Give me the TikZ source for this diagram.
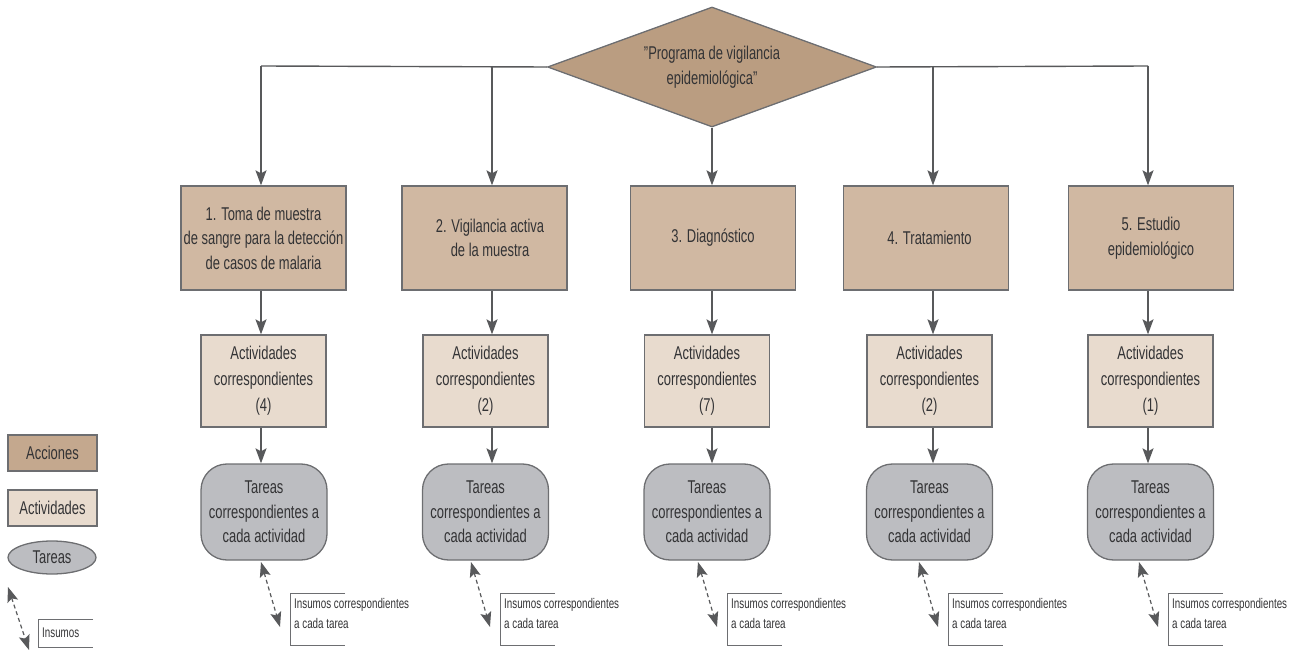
\documentclass[tikz,border=0pt]{standalone}
\usepackage{fontspec}
\setmainfont{Liberation Sans}[FakeStretch=0.70]
\usetikzlibrary{shapes.geometric,arrows.meta}

\definecolor{accfill}{HTML}{D0B8A2}
\definecolor{diafill}{HTML}{BA9D81}
\definecolor{legacc}{HTML}{C4A88E}
\definecolor{actfill}{HTML}{E8DBCE}
\definecolor{tarfill}{HTML}{BCBDC1}
\definecolor{edge}{HTML}{6D6E71}
\definecolor{wire}{HTML}{58595B}
\definecolor{ink}{HTML}{333335}

\tikzset{
  base/.style={draw=edge, line width=1.3pt, text=ink, align=center, inner sep=0pt,
    font=\fontsize{18.5}{24.5}\selectfont},
  accion/.style={base, fill=accfill, minimum width=165pt, minimum height=104pt},
  actividad/.style={base, fill=actfill, minimum width=125pt, minimum height=92pt,
    font=\fontsize{18.5}{26}\selectfont},
  tarea/.style={base, fill=tarfill, rounded corners=26pt, minimum width=126pt, minimum height=96pt},
  programa/.style={base, diamond, aspect=2.74, fill=diafill, minimum width=329pt, minimum height=120pt},
  wirearrow/.style={draw=wire, line width=1.4pt, -{Stealth[length=15pt,width=11pt,inset=3pt]}},
  wireline/.style={draw=wire, line width=1.4pt},
  insumoarrow/.style={draw=wire, line width=1.2pt, dash pattern=on 4pt off 3pt,
    {Stealth[length=15pt,width=11pt,inset=3pt]}-{Stealth[length=15pt,width=11pt,inset=3pt]}},
  bracket/.style={draw=edge, line width=0.9pt},
  insumotxt/.style={text=ink, align=left, anchor=north west, inner sep=0pt,
    font=\fontsize{14}{20}\selectfont},
}

\begin{document}
\begin{tikzpicture}[x=1pt,y=-1pt]
\useasboundingbox (0,0) rectangle (1299,652);

% top decision node
\node[programa] (prog) at (712,67) {”Programa de vigilancia\\epidemiológica”};

% drop points on the distribution line
\coordinate (d1) at (261,66);
\coordinate (d2) at (492,66);
\coordinate (d3) at (712,127);
\coordinate (d4) at (933,66);
\coordinate (d5) at (1148,66);

% actions
\node[accion] (a1) at (263.5,238) {1. Toma de muestra\\de sangre para la detección\\de casos de malaria};
\node[accion] (a2) at (484.5,238) {\hspace*{11pt}2. Vigilancia activa\\\hspace*{11pt}de la muestra};
\node[accion] (a3) at (713,238) {3. Diagnóstico};
\node[accion] (a4) at (926,238) {\hspace*{7pt}4. Tratamiento};
\node[accion] (a5) at (1151,238) {5. Estudio\\epidemiológico};

% activities
\node[actividad] (b1) at (263.5,381) {Actividades\\correspondientes\\(4)};
\node[actividad] (b2) at (485.5,381) {Actividades\\correspondientes\\(2)};
\node[actividad] (b3) at (707,381) {Actividades\\correspondientes\\(7)};
\node[actividad] (b4) at (929.5,381) {Actividades\\correspondientes\\(2)};
\node[actividad] (b5) at (1150.5,381) {Actividades\\correspondientes\\(1)};

% tasks
\foreach \i/\x in {1/264,2/485.5,3/707,4/929.5,5/1150.5}{
  \node[tarea] (t\i) at (\x,512) {Tareas\\correspondientes a\\cada actividad};
}

% distribution line
\draw[wireline] (d1) -- (prog.west);
\draw[wireline] (prog.east) -- (d5);

% arrows down the columns
\draw[wirearrow] (d1) -- (d1 |- a1.north);
\draw[wirearrow] (d2) -- (d2 |- a2.north);
\draw[wirearrow] (prog.south) -- (prog.south |- a3.north);
\draw[wirearrow] (d4) -- (d4 |- a4.north);
\draw[wirearrow] (d5) -- (d5 |- a5.north);

\draw[wirearrow] (a1.south -| d1) -- (d1 |- b1.north);
\draw[wirearrow] (a2.south -| d2) -- (d2 |- b2.north);
\draw[wirearrow] (a3.south -| d3) -- (d3 |- b3.north);
\draw[wirearrow] (a4.south -| d4) -- (d4 |- b4.north);
\draw[wirearrow] (a5.south -| d5) -- (d5 |- b5.north);

\draw[wirearrow] (b1.south -| d1) -- (d1 |- t1.north);
\draw[wirearrow] (b2.south -| d2) -- (d2 |- t2.north);
\draw[wirearrow] (b3.south -| d3) -- (d3 |- t3.north);
\draw[wirearrow] (b4.south -| d4) -- (d4 |- t4.north);
\draw[wirearrow] (b5.south -| d5) -- (d5 |- t5.north);

% inputs for each task
\foreach \i/\bx in {1/290,2/500,3/727,4/948,5/1168}{
  \coordinate (p\i) at (\bx-29,562);
  \coordinate (q\i) at (\bx-10,627);
  \draw[insumoarrow] (p\i) -- (q\i);
  \draw[bracket] (\bx+55,593) -- (\bx,593) -- (\bx,645) -- (\bx+55,645);
  \node[insumotxt] (ins\i) at (\bx+4,598) {Insumos correspondientes\\a cada tarea};
}

% legend
\node[base, fill=legacc, minimum width=89pt, minimum height=36pt] (lacc) at (52.5,453) {Acciones};
\node[base, fill=actfill, minimum width=89pt, minimum height=36pt] (lact) at (52.5,508) {Actividades};
\node[base, ellipse, fill=tarfill, minimum width=88pt, minimum height=33pt] (ltar) at (52,557.5) {Tareas};
\coordinate (lp) at (8,587);
\coordinate (lq) at (29,650);
\draw[insumoarrow] (lp) -- (lq);
\draw[bracket] (93,619) -- (38,619) -- (38,647) -- (93,647);
\node[insumotxt, anchor=west] (lins) at (42,633) {Insumos};
\end{tikzpicture}
\end{document}
